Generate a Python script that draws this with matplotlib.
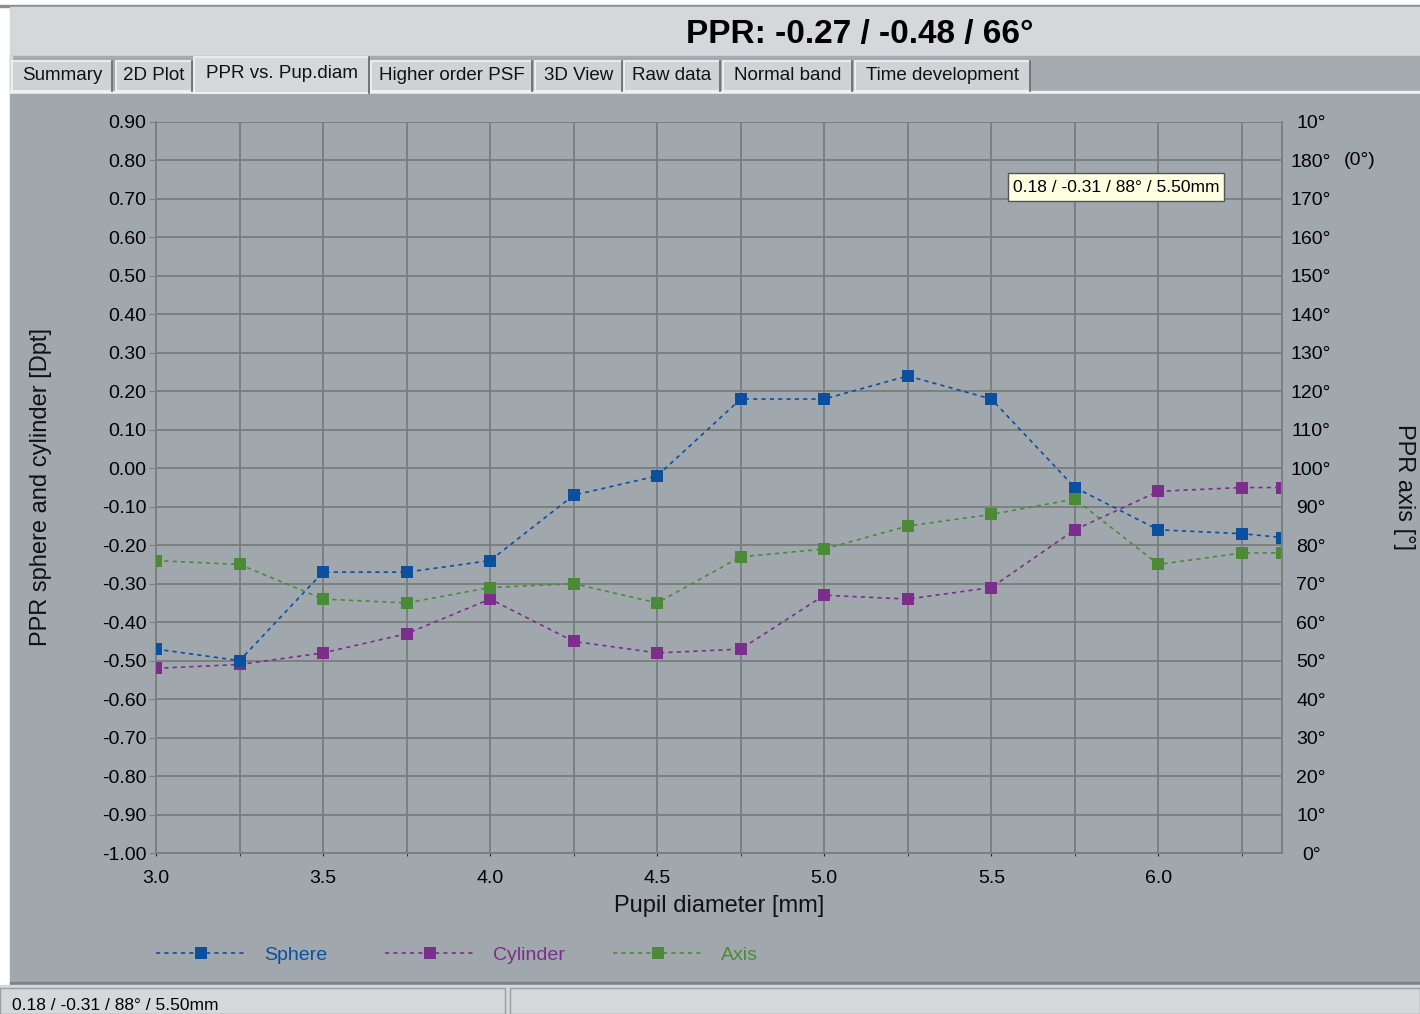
import numpy as np
import matplotlib
matplotlib.use("Agg")
import matplotlib.pyplot as plt
from matplotlib.patches import Rectangle

plt.rcParams['font.family'] = ['Liberation Sans', 'DejaVu Sans']

# data
pupil    = [3.0, 3.25, 3.5, 3.75, 4.0, 4.25, 4.5, 4.75, 5.0, 5.25, 5.5, 5.75, 6.0, 6.25, 6.37]
sphere   = [-0.47, -0.50, -0.27, -0.27, -0.24, -0.07, -0.02, 0.18, 0.18, 0.24, 0.18, -0.05, -0.16, -0.17, -0.18]
cylinder = [-0.52, -0.51, -0.48, -0.43, -0.34, -0.45, -0.48, -0.47, -0.33, -0.34, -0.31, -0.16, -0.06, -0.05, -0.05]
axis_deg = [76, 75, 66, 65, 69, 70, 65, 77, 79, 85, 88, 92, 75, 78, 78]

left_ticks  = [round(-1.0 + 0.1 * i, 2) + 0.0 for i in range(20)]
right_ticks = np.arange(0, 191, 10)
right_labels = [f"{t % 180 if t > 180 else t}°" for t in right_ticks]
x_major = [3.0, 3.5, 4.0, 4.5, 5.0, 5.5, 6.0]
x_grid  = np.arange(3.0, 6.26, 0.25)

tabs = [("Summary", 12, 112), ("2D Plot", 116, 192), ("PPR vs. Pup.diam", 194, 369),
        ("Higher order PSF", 371, 532), ("3D View", 535, 622), ("Raw data", 624, 720),
        ("Normal band", 723, 852), ("Time development", 855, 1030)]
active_tab = "PPR vs. Pup.diam"
title = "PPR: -0.27 / -0.48 / 66°"
readout = "0.18 / -0.31 / 88° / 5.50mm"

c_sph, c_cyl, c_ax = "#0c4f9f", "#7b2e8b", "#4b8b38"
panel = "#a0a8ae"
light = "#d5d8db"
gridc = "#7a7f80"

W, H = 1420, 1014
fig = plt.figure(figsize=(W / 100, H / 100), dpi=100)

# window chrome, in pixel coordinates
ui = fig.add_axes([0, 0, 1, 1], zorder=-5)
ui.set_xlim(0, W)
ui.set_ylim(H, 0)
ui.axis("off")
ui.add_patch(Rectangle((0, 0), W, H, color="white"))
ui.add_patch(Rectangle((0, 5), W, 2, color="#8a8e92"))
ui.add_patch(Rectangle((10, 7), W - 10, 49, color=light))
ui.add_patch(Rectangle((10, 56), W - 10, 37, color="#a4aaae"))
ui.add_patch(Rectangle((10, 56), 2, 37, color=light))
ui.add_patch(Rectangle((10, 91), W - 10, 3, color="#eef0f0"))
ui.add_patch(Rectangle((10, 94), W - 10, 890, color=panel))
ui.add_patch(Rectangle((10, 982), W - 10, 3, color="#7c8286"))
ui.add_patch(Rectangle((0, 985), W, 29, color=light))
ui.add_patch(Rectangle((0, 988), 505, 26, fill=False, ec="#9a9ea2", lw=1))
ui.add_patch(Rectangle((510, 988), W - 510, 26, fill=False, ec="#9a9ea2", lw=1))
ui.text(12, 1006, readout, fontsize=12.5, va="center", ha="left", color="black")
ui.text(860, 35, title, fontsize=24, fontweight="bold", ha="center", va="center")

for name, x0, x1 in tabs:
    if name == active_tab:
        y0, h, fc = 57, 36, light
    else:
        y0, h, fc = 61, 30, "#d0d3d6"
    ui.add_patch(Rectangle((x0, y0), x1 - x0, h, fc=fc, ec="#f4f4f4", lw=1.2))
    ui.plot([x1, x1], [y0, y0 + h], color="#5c6064", lw=1.2)
    ui.text((x0 + x1) / 2, y0 + h / 2 - (2 if name == active_tab else 0), name,
            fontsize=13.5, ha="center", va="center", color="#111111")

# plot axes
ax = fig.add_axes([156 / W, 1 - 853 / H, (1282 - 156) / W, (853 - 122) / H])
ax.set_facecolor("none")
ax.set_xlim(3.0, 6.37)
ax.set_ylim(-1.0, 0.9)
ax.set_yticks(left_ticks)
ax.set_yticklabels([f"{t:.2f}" for t in left_ticks])
ax.set_xticks(x_major)
ax.set_xticklabels([f"{t:.1f}" for t in x_major])
ax.set_xticks(x_grid, minor=True)
ax.tick_params(axis="y", labelsize=14, length=5, color=gridc, pad=2)
ax.tick_params(axis="x", which="both", labelsize=14, length=2, color="#222222", pad=10)
for t in left_ticks:
    ax.axhline(t, color=gridc, lw=1.4, zorder=0)
for g in x_grid:
    ax.axvline(g, color=gridc, lw=1.4, zorder=0)
ax.spines["top"].set_visible(False)
for s in ["left", "right", "bottom"]:
    ax.spines[s].set_color(gridc)
    ax.spines[s].set_linewidth(1.4)
ax.set_xlabel("Pupil diameter [mm]", fontsize=17, labelpad=6, color="#111111")
ax.set_ylabel("PPR sphere and cylinder [Dpt]", fontsize=17, labelpad=36, color="#111111")

kw = dict(lw=1.2, dashes=(2.5, 2.5), marker="s", markersize=8.5, markeredgewidth=0)
h1, = ax.plot(pupil, sphere, color=c_sph, label="Sphere", zorder=4, **kw)
h2, = ax.plot(pupil, cylinder, color=c_cyl, label="Cylinder", zorder=3, **kw)

ax2 = ax.twinx()
ax2.set_ylim(0, 190)
ax2.set_yticks(right_ticks)
ax2.set_yticklabels(right_labels)
ax2.tick_params(axis="y", labelsize=14, length=0, pad=21)
for lab in ax2.get_yticklabels():
    lab.set_horizontalalignment("center")
for s in ["top", "left", "bottom"]:
    ax2.spines[s].set_visible(False)
ax2.spines["right"].set_color(gridc)
ax2.spines["right"].set_linewidth(1.4)
ax2.text(1.0 + 62 / (1282 - 156), 180, "(0°)", transform=ax2.get_yaxis_transform(),
         fontsize=14, ha="left", va="center")
ax2.set_ylabel("PPR axis [°]", fontsize=17, rotation=-90, labelpad=60, color="#111111")
h3, = ax2.plot(pupil, axis_deg, color=c_ax, label="Axis", zorder=2, **kw)

# legend entries sit at fixed slots, like the original widget
for h, c, x in [(h1, c_sph, 156), (h2, c_cyl, 385), (h3, c_ax, 613)]:
    leg = fig.legend(handles=[h], frameon=False, loc="center left",
                     bbox_to_anchor=(x / W, 1 - 955 / H), fontsize=14, numpoints=1,
                     handlelength=4.6, handletextpad=0.95, borderpad=0, borderaxespad=0)
    leg.get_texts()[0].set_color(c)

# tooltip on top of everything
top = fig.add_axes([0, 0, 1, 1], zorder=10)
top.set_xlim(0, W)
top.set_ylim(H, 0)
top.axis("off")
top.add_patch(Rectangle((1008, 173), 216, 28, fc="#ffffe1", ec="#555555", lw=1))
top.text(1013, 188, readout, fontsize=12.5, ha="left", va="center")

fig.savefig("out.png", dpi=100)
